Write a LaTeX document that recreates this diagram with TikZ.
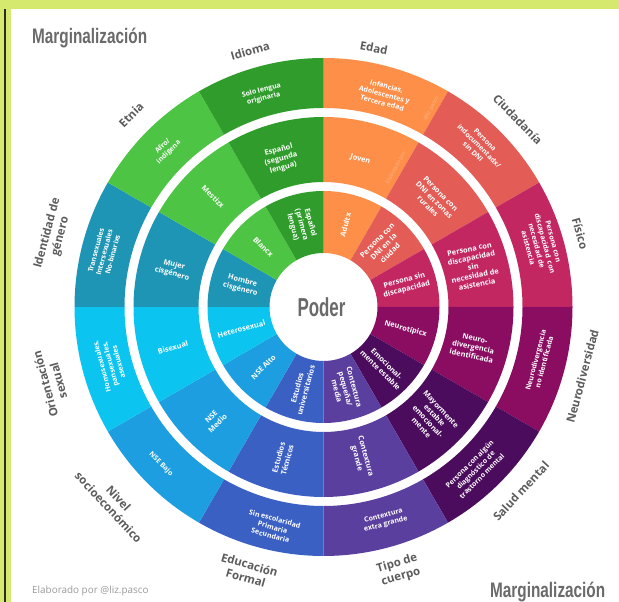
\documentclass[tikz,border=0pt]{standalone}
\usepackage{fontspec}
\setmainfont{Open Sans}
\newfontfamily\condfont{Liberation Sans}
\definecolor{frameg}{HTML}{D5E96E}
\definecolor{framedark}{HTML}{2A2A2A}
\definecolor{cIdi}{HTML}{2F9C2C}
\definecolor{cEtn}{HTML}{4DC443}
\definecolor{cIde}{HTML}{1E95B4}
\definecolor{cOri}{HTML}{0BC4F0}
\definecolor{cNiv}{HTML}{1C9EE0}
\definecolor{cEdu}{HTML}{3B60C4}
\definecolor{cTip}{HTML}{5B3F9F}
\definecolor{cSal}{HTML}{4B0C5E}
\definecolor{cNeu}{HTML}{8B0D62}
\definecolor{cFis}{HTML}{C22762}
\definecolor{cCiu}{HTML}{E35D56}
\definecolor{cEdad}{HTML}{FD8F48}
\definecolor{catgray}{HTML}{5C5C5C}
\definecolor{titgray}{HTML}{6A6A6A}
\definecolor{credgray}{HTML}{9A9A9A}
\newcommand\annsector[5]{%
  \fill[#5] (#1:#3pt) arc[start angle=#1,end angle=#2,radius=#3pt]
    -- (#2:#4pt) arc[start angle=#2,end angle=#1,radius=#4pt] -- cycle;}
\tikzset{
  lbl/.style={text=white, font=\fontsize{7.4}{9}\selectfont\bfseries, align=center, inner sep=0pt},
  olbl/.style={lbl, font=\fontsize{7}{8.6}\selectfont\bfseries},
  cat/.style={text=catgray, font=\fontsize{11.5}{13.5}\selectfont\bfseries, align=center, inner sep=0pt},
  wm/.style={text=white, opacity=0.35, font=\fontsize{5.5}{6}\selectfont, inner sep=0pt},
  title/.style={text=titgray, inner sep=0pt, anchor=base west}
}
\begin{document}
\begin{tikzpicture}[x=1pt,y=1pt]
\useasboundingbox (0,0) rectangle (619,602);
\fill[white] (0,0) rectangle (619,602);
\fill[frameg] (0,593) rectangle (619,602);
\fill[frameg] (0,0) rectangle (11,602);
\fill[framedark] (4,0) rectangle (6,593);
\begin{scope}[shift={(323.5,295)}]
\foreach \a/\b/\c in {60/90/cEdad,30/60/cCiu,0/30/cFis,-30/0/cNeu,-60/-30/cSal,-90/-60/cTip,-120/-90/cEdu,-150/-120/cNiv,180/210/cOri,150/180/cIde,120/150/cEtn,90/120/cIdi}{
  \annsector{\a}{\b}{54}{116}{\c}
  \annsector{\a}{\b}{125}{190}{\c}
  \annsector{\a}{\b}{199}{249}{\c}
}
% centre
\node[text=titgray, inner sep=0pt] (poder) at (-2,0) {\scalebox{0.65}[1]{\condfont\bfseries\fontsize{26}{26}\selectfont Poder}};
% inner ring (radial)
\node[lbl, rotate=-75] (i1) at (105:85) {Español\\(primera\\lengua)};
\node[lbl, rotate=-45] (i2) at (135:85) {Blancx};
\node[lbl, rotate=-15] (i3) at (165:85) {Hombre\\cisgénero};
\node[lbl, rotate=15] (i4) at (195:85) {Heterosexual};
\node[lbl, rotate=45] (i5) at (225:85) {NSE Alto};
\node[lbl, rotate=75] (i6) at (255:85) {Estudios\\universitarios};
\node[lbl, rotate=-75] (i7) at (-75:85) {Contextura\\pequeña/\\media};
\node[lbl, rotate=-45] (i8) at (-45:85) {Emocional-\\mente estable};
\node[lbl, rotate=-15] (i9) at (-15:85) {Neurotípicx};
\node[lbl, rotate=15] (i10) at (15:85) {Persona sin\\discapacidad};
\node[lbl, rotate=45] (i11) at (45:85) {Persona con\\DNI en la\\ciudad};
\node[lbl, rotate=75] (i12) at (75:85) {Adultx};
% middle ring
\node[lbl, rotate=15] (m1) at (106:154) {Español\\(segunda\\lengua)};
\node[lbl, rotate=-45] (m2) at (135:156) {Mestizx};
\node[lbl, rotate=-15] (m3) at (166:155) {Mujer\\cisgénero};
\node[lbl, rotate=15] (m4) at (195:156) {Bisexual};
\node[lbl, rotate=45] (m5) at (226:157) {NSE\\Medio};
\node[lbl, rotate=75] (m6) at (255:157) {Estudios\\Técnicos};
\node[lbl, rotate=-75] (m7) at (-76:155) {Contextura\\grande};
\node[lbl, rotate=-47] (m8) at (-46:155) {Mayormente\\estable\\emocional-\\mente};
\node[lbl, rotate=-12] (m9) at (-15:155) {Neuro-\\divergencia\\identificada};
\node[lbl, rotate=12] (m10) at (15:155) {Persona con\\discapacidad\\sin\\necesidad de\\asistencia};
\node[lbl, rotate=-45] (m11) at (44:154) {Persona con\\DNI en zonas\\rurales};
\node[lbl, rotate=-15] (m12) at (76:152) {Joven};
\node[wm, rotate=62] (wm1) at (62.5:157) {Elaborado por};
% outer ring (tangential)
\node[olbl, rotate=15] (o1) at (106:221) {Solo lengua\\originaria};
\node[olbl, rotate=45] (o2) at (135:223) {Afro/\\indígena};
\node[olbl, rotate=75] (o3) at (166:226) {Transexuales\\Intersexuales\\No-binarixs};
\node[olbl, rotate=105] (o4) at (195:221) {Homosexuales,\\pansexuales,\\asexuales};
\node[olbl, rotate=-45] (o5) at (224:226) {NSE Bajo};
\node[olbl, rotate=-15] (o6) at (257:226) {Sin escolaridad\\Primaria\\Secundaria};
\node[olbl, rotate=15] (o7) at (-74:222) {Contextura\\extra grande};
\node[olbl, rotate=45] (o8) at (-47:223) {Persona con algún\\diagnóstico de\\trastorno mental};
\node[olbl, rotate=75] (o9) at (-14:223) {Neurodivergencia\\no identificada};
\node[olbl, rotate=-75] (o10) at (16:226) {Persona con\\discapacidad\ \ con\\necesidad de\\asistencia};
\node[olbl, rotate=-45] (o11) at (46:224) {Persona\\indocumentadx/\\sin DNI};
\node[olbl, rotate=-15] (o12) at (74:221) {Infancias,\\Adolescentes y\\Tercera edad};
\node[wm, rotate=62] (wm2) at (61.5:226) {@liz.pasco};
% category labels
\node[cat, rotate=16] (c1) at (106:266) {Idioma};
\node[cat, rotate=45] (c2) at (135:272) {Etnia};
\node[cat, rotate=75] (c3) at (165:279) {Identidad de\\género};
\node[cat, rotate=105] (c4) at (195.5:282) {Orientación\\sexual};
\node[cat, rotate=-47] (c5) at (-137:287) {Nivel\\socioeconómico};
\node[cat, rotate=-16] (c6) at (-106:275) {Educación\\Formal};
\node[cat, rotate=16] (c7) at (-74:274) {Tipo de\\cuerpo};
\node[cat, rotate=47] (c8) at (-43:270) {Salud mental};
\node[cat, rotate=75] (c9) at (-15:268) {Neurodiversidad};
\node[cat, rotate=-74] (c10) at (16:267) {Físico};
\node[cat, rotate=-46] (c11) at (44:270) {Ciudadanía};
\node[cat, rotate=-11] (c12) at (79:264) {Edad};
\end{scope}
% titles and credit
\node[title] (t1) at (32,558) {\scalebox{0.73}[1]{\condfont\bfseries\fontsize{21}{21}\selectfont Marginalización}};
\node[title] (t2) at (490,4.5) {\scalebox{0.73}[1]{\condfont\bfseries\fontsize{21}{21}\selectfont Marginalización}};
\node[title, text=credgray, font=\fontsize{9.9}{11}\selectfont] (cr) at (32,8) {Elaborado por @liz.pasco};
\end{tikzpicture}
\end{document}
